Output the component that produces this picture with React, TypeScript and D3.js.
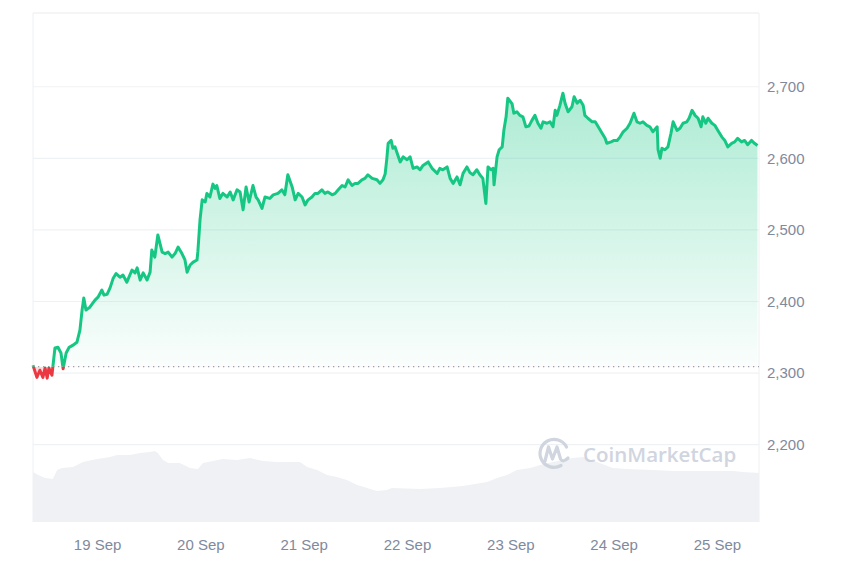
import React from 'react';
import * as d3 from 'd3';

// ---------- DATA ----------
const START_DATE = new Date(2024, 8, 18, 9, 0); // 18 Sep 09:00
const END_HOURS = 168.65;
const BASELINE_PRICE = 2309;
const Y_MIN = 2092;
const Y_MAX = 2803;
const Y_TICKS = [2200, 2300, 2400, 2500, 2600, 2700];
const X_TICK_DATES = ['2024-09-19', '2024-09-20', '2024-09-21', '2024-09-22', '2024-09-23', '2024-09-24', '2024-09-25'];
const X_TICK_LABELS = ['19 Sep', '20 Sep', '21 Sep', '22 Sep', '23 Sep', '24 Sep', '25 Sep'];

// hours since START_DATE
const priceHours = [
  0, 0.9, 1.6, 2.3, 2.8, 3.3, 3.7, 4.4, 4.6, 5.1, 5.8, 6.5, 7.0, 7.7, 8.4, 9.3, 10.2, 10.9, 11.4, 11.8,
  12.3, 13.2, 14.4, 15.1, 16.0, 16.5, 17.2, 17.9, 18.6, 19.3, 20.2, 20.9, 21.8, 23.0, 23.7, 24.2, 24.9, 25.6, 26.5, 27.2,
  27.6, 28.3, 29.0, 30.0, 30.7, 31.4, 32.3, 33.0, 33.7, 34.6, 35.3, 35.8, 36.5, 37.2, 38.1, 38.3, 38.8, 39.3, 40.0, 40.4,
  41.1, 41.8, 42.3, 42.7, 43.4, 44.1, 45.1, 45.8, 46.5, 47.4, 48.1, 48.8, 49.5, 50.2, 51.1, 51.8, 52.3, 53.2, 53.9, 55.0,
  55.8, 56.9, 57.8, 58.5, 59.2, 60.2, 60.9, 61.6, 62.5, 63.2, 63.9, 64.8, 65.5, 66.2, 67.1, 67.8, 68.5, 69.5, 70.2, 70.9,
  71.8, 72.5, 73.2, 74.1, 74.8, 75.5, 76.4, 77.1, 77.8, 78.8, 79.9, 80.6, 81.3, 81.8, 82.2, 82.5, 83.2, 83.6, 84.1, 84.6,
  85.3, 86.0, 86.9, 87.6, 88.3, 89.2, 89.9, 90.6, 91.8, 92.7, 93.9, 94.5, 95.2, 96.2, 96.9, 97.6, 98.5, 99.2, 99.9, 100.8,
  101.5, 102.2, 103.1, 103.8, 104.5, 105.2, 105.7, 106.4, 106.9, 107.1, 107.8, 108.3, 109.0, 109.4, 109.9, 110.3, 111.3, 111.7, 112.4, 113.1,
  113.8, 114.5, 115.2, 115.9, 116.6, 117.3, 118.0, 118.5, 119.4, 120.1, 120.8, 121.3, 121.7, 122.4, 123.1, 123.6, 124.3, 125.2, 125.7, 126.4,
  127.1, 127.8, 128.2, 128.9, 129.9, 130.6, 131.3, 132.2, 132.9, 133.3, 134.3, 135.0, 135.7, 136.4, 137.1, 138.0, 138.7, 139.6, 140.3, 141.0,
  141.7, 142.6, 143.3, 144.0, 145.0, 145.2, 145.7, 146.1, 146.8, 147.5, 148.2, 148.7, 149.6, 150.3, 151.0, 151.9, 152.4, 153.1, 153.8, 154.5,
  155.2, 155.6, 156.3, 156.8, 157.7, 158.4, 159.1, 160.0, 160.7, 161.4, 162.3, 163.0, 163.7, 164.6, 165.3, 166.0, 166.9, 167.6, 168.3,
];
const priceValues = [
  2311, 2294, 2304, 2294, 2307, 2293, 2307, 2297, 2308, 2335, 2336, 2328, 2306, 2328, 2336, 2339, 2343, 2360, 2388, 2405,
  2388, 2392, 2402, 2406, 2416, 2409, 2410, 2419, 2432, 2439, 2434, 2437, 2427, 2444, 2440, 2447, 2430, 2440, 2430, 2441,
  2472, 2462, 2493, 2469, 2467, 2469, 2462, 2467, 2476, 2467, 2458, 2441, 2451, 2455, 2458, 2470, 2514, 2542, 2539, 2551,
  2546, 2564, 2558, 2562, 2544, 2551, 2546, 2553, 2542, 2556, 2553, 2528, 2560, 2539, 2562, 2546, 2542, 2530, 2546, 2544,
  2549, 2551, 2556, 2549, 2577, 2560, 2542, 2551, 2546, 2535, 2542, 2546, 2551, 2551, 2556, 2551, 2553, 2549, 2551, 2556,
  2562, 2560, 2570, 2562, 2565, 2565, 2570, 2572, 2577, 2572, 2570, 2565, 2570, 2578, 2600, 2621, 2625, 2614, 2616, 2607,
  2595, 2602, 2598, 2602, 2586, 2588, 2584, 2590, 2595, 2586, 2579, 2586, 2584, 2588, 2572, 2565, 2574, 2563, 2579, 2588,
  2580, 2577, 2584, 2577, 2572, 2537, 2588, 2584, 2586, 2563, 2602, 2612, 2616, 2640, 2658, 2684, 2676, 2663, 2665, 2660,
  2658, 2644, 2645, 2653, 2660, 2649, 2642, 2651, 2649, 2651, 2644, 2667, 2660, 2674, 2691, 2677, 2665, 2672, 2686, 2677,
  2681, 2674, 2660, 2656, 2651, 2651, 2644, 2635, 2628, 2621, 2623, 2625, 2625, 2630, 2637, 2642, 2649, 2663, 2651, 2649,
  2651, 2646, 2644, 2637, 2644, 2612, 2600, 2614, 2612, 2616, 2635, 2651, 2639, 2642, 2649, 2651, 2656, 2667, 2660, 2656,
  2644, 2658, 2649, 2656, 2649, 2646, 2639, 2630, 2625, 2616, 2621, 2623, 2628, 2623, 2625, 2619, 2625, 2621, 2618,
];

// volume (billions USD)
const volumeHours = [
  0, 1.2, 2.8, 4.6, 5.6, 6.7, 9.3, 11.6, 14.9, 17.9, 19.5, 22.5, 24.9, 27.2, 28.3, 29.0, 30.2, 31.4, 34.1, 36.5,
  38.3, 39.5, 41.8, 44.1, 47.4, 50.4, 53.4, 56.7, 59.7, 62.0, 63.7, 66.0, 68.3, 70.6, 72.9, 75.3, 77.6, 79.9, 82.2, 83.4,
  89.9, 94.5, 99.9, 105.5, 107.8, 110.1, 112.4, 115.5, 117.8, 120.8, 125.4, 127.8, 131.0, 134.7, 138.0, 144.0, 148.7, 153.3, 158.0, 162.6,
  164.9, 168.65,
];
const volumeValues = [
  15.0, 14.1, 13.2, 12.9, 15.6, 16.2, 16.5, 18.0, 18.9, 19.5, 20.1, 20.1, 20.7, 21.0, 21.3, 20.7, 18.6, 17.7, 17.7, 16.2,
  15.9, 17.7, 18.3, 18.9, 18.6, 19.2, 18.3, 18.0, 18.0, 18.0, 16.5, 15.6, 14.1, 13.5, 12.6, 11.1, 10.2, 9.3, 9.6, 10.2,
  9.9, 10.2, 10.8, 12.0, 13.2, 14.1, 15.6, 16.2, 17.1, 18.0, 19.2, 19.5, 18.0, 16.2, 15.9, 15.6, 15.3, 15.3, 15.3, 15.3,
  15.0, 14.7,
];
const VOLUME_MAX = 25;

// ---------- CHART ----------
const W = 850;
const H = 567;
const LEFT = 33;
const RIGHT = 759;
const TOP = 13;
const BOTTOM = 522;

const GREEN = '#16c784';
const RED = '#ea3943';
const AXIS_TEXT = '#808a9d';
const GRID = '#eff2f5';
const FONT = '"Liberation Sans", Arial, Helvetica, sans-serif';

const toDate = (h: number) => new Date(START_DATE.getTime() + h * 3600 * 1000);

export default function App() {
  const x = d3.scaleTime().domain([toDate(0), toDate(END_HOURS)]).range([LEFT, RIGHT]);
  const y = d3.scaleLinear().domain([Y_MIN, Y_MAX]).range([BOTTOM, TOP]);
  const yVol = d3.scaleLinear().domain([0, VOLUME_MAX]).range([BOTTOM, BOTTOM - 83.3]);

  const price = priceHours.map((h, i) => ({ d: toDate(h), v: priceValues[i] }));
  const vol = volumeHours.map((h, i) => ({ d: toDate(h), v: volumeValues[i] }));
  const yBase = y(BASELINE_PRICE);

  const line = d3.line<{ d: Date; v: number }>().x((p) => x(p.d)).y((p) => y(p.v));
  const area = d3
    .area<{ d: Date; v: number }>()
    .x((p) => x(p.d))
    .y0(yBase)
    .y1((p) => y(p.v));
  const volArea = d3
    .area<{ d: Date; v: number }>()
    .x((p) => x(p.d))
    .y0(BOTTOM)
    .y1((p) => yVol(p.v));

  const linePath = line(price) || '';
  const areaPath = area(price) || '';

  return (
    <svg width={W} height={H} style={{ position: 'absolute', left: 0, top: 0, background: '#fff' }}>
      <defs>
        <clipPath id="above">
          <rect x={0} y={0} width={W} height={yBase} />
        </clipPath>
        <clipPath id="below">
          <rect x={0} y={yBase} width={W} height={H - yBase} />
        </clipPath>
        <linearGradient id="greenGrad" gradientUnits="userSpaceOnUse" x1={0} y1={y(2700)} x2={0} y2={yBase}>
          <stop offset="0%" stopColor={GREEN} stopOpacity={0.36} />
          <stop offset="100%" stopColor={GREEN} stopOpacity={0.02} />
        </linearGradient>
      </defs>

      {/* frame */}
      <line x1={LEFT} x2={RIGHT} y1={TOP} y2={TOP} stroke="#e9ecf0" strokeWidth={1.2} />
      <line x1={LEFT} x2={LEFT} y1={TOP} y2={BOTTOM} stroke="#eef0f3" strokeWidth={1} />
      <line x1={RIGHT} x2={RIGHT} y1={TOP} y2={BOTTOM} stroke="#eef0f3" strokeWidth={1} />

      {/* grid */}
      {Y_TICKS.map((t) => (
        <line key={t} x1={LEFT} x2={RIGHT} y1={y(t)} y2={y(t)} stroke={GRID} strokeWidth={1.2} />
      ))}

      {/* volume */}
      <path d={volArea(vol) || ''} fill="#eff1f4" />

      {/* watermark */}
      <g opacity={0.9}>
        <path
          d="M 566.5 447 A 14 14 0 1 0 561 465.5"
          fill="none"
          stroke="#cbd1dc"
          strokeWidth={3.2}
          strokeLinecap="round"
        />
        <path
          d="M 545 461 L 548.5 447 L 552.5 459 L 557 447 L 560.5 459 Q 563 463 568 458"
          fill="none"
          stroke="#cbd1dc"
          strokeWidth={3.2}
          strokeLinecap="round"
          strokeLinejoin="round"
        />
        <text
          x={583}
          y={462}
          fontFamily='"Open Sans", "Noto Sans", sans-serif'
          fontSize={20.5}
          fontWeight={600}
          fill="#cbd1dc"
        >
          CoinMarketCap
        </text>
      </g>

      {/* price areas */}
      <path d={areaPath} fill="url(#greenGrad)" clipPath="url(#above)" />
      <path d={areaPath} fill={RED} fillOpacity={0.18} clipPath="url(#below)" />

      {/* baseline */}
      <line
        x1={LEFT}
        x2={RIGHT}
        y1={yBase}
        y2={yBase}
        stroke="#9aa1ae"
        strokeWidth={1.3}
        strokeDasharray="1.3 3.7"
      />

      {/* price lines */}
      <path d={linePath} fill="none" stroke={GREEN} strokeWidth={3} strokeLinejoin="round" clipPath="url(#above)" />
      <path d={linePath} fill="none" stroke={RED} strokeWidth={3} strokeLinejoin="round" clipPath="url(#below)" />

      {/* y labels */}
      {Y_TICKS.map((t) => (
        <text
          key={t}
          x={RIGHT + 8}
          y={y(t)}
          dy="0.35em"
          fontFamily={FONT}
          fontSize={15}
          fill={AXIS_TEXT}
        >
          {d3.format(',')(t)}
        </text>
      ))}

      {/* x labels */}
      {X_TICK_DATES.map((ds, i) => {
        const [yy, mm, dd] = ds.split('-').map(Number);
        return (
          <text
            key={ds}
            x={x(new Date(yy, mm - 1, dd))}
            y={550}
            textAnchor="middle"
            fontFamily={FONT}
            fontSize={15}
            fill={AXIS_TEXT}
          >
            {X_TICK_LABELS[i]}
          </text>
        );
      })}
    </svg>
  );
}
